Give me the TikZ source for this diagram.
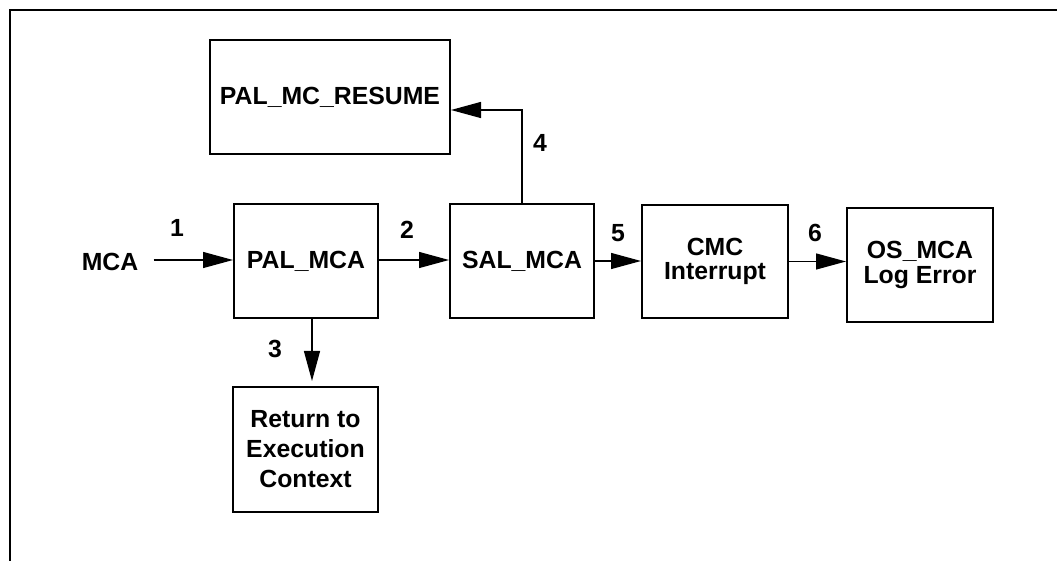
\documentclass[tikz,border=0pt]{standalone}
\usepackage{fontspec}
\setmainfont{Liberation Sans}
\usepackage{tikz}
\usetikzlibrary{arrows.meta,calc,positioning}

\tikzset{
    blk/.style={draw, line width=1pt, align=center, font=\bfseries\fontsize{12.4}{12.4}\selectfont},
    flow/.style={line width=0.65pt, -{Triangle[length=15pt,width=8pt]}},
    num/.style={font=\bfseries\fontsize{12.4}{12.4}\selectfont}
}

\begin{document}
\begin{tikzpicture}[x=0.5pt,y=-0.5pt]
    \useasboundingbox (0,0) rectangle (1057,561);
    \draw[line width=0.6pt] (10,561) -- (10,10) -- (1057,10);
    % blocks
    \node[blk, minimum width=120pt, minimum height=57pt] (resume) at (330,97) {PAL\_MC\_RESUME};
    \node[blk, minimum width=72pt, minimum height=57pt] (palmca) at (306,261) {PAL\_MCA};
    \node[blk, minimum width=72pt, minimum height=57pt] (salmca) at (522,261) {SAL\_MCA};
    \node[blk, minimum width=73pt, minimum height=56.5pt] (cmc) at (715,261.5) {CMC\\Interrupt};
    \node[blk, minimum width=73pt, minimum height=57pt] (osmca) at (920,265) {OS\_MCA\\Log Error};
    \node[blk, minimum width=72.5pt, minimum height=62.5pt, font=\bfseries\fontsize{12.4}{15}\selectfont] (ret) at (305.5,449.5) {Return to\\Execution\\Context};
    \node[num, inner xsep=7.5pt] (mca) at (110,262) {MCA};
    % connectors
    \draw[flow] (mca.east |- 0,260) -- (palmca.west |- 0,260);
    \draw[flow] (palmca.east |- 0,260) -- (salmca.west |- 0,260);
    \draw[flow] (salmca.east) -- (cmc.west |- salmca.east);
    \draw[flow] (cmc.east) -- (osmca.west |- cmc.east);
    \draw[flow, shorten >=2.5pt] ([xshift=3pt]palmca.south) -- ([xshift=3pt]palmca.south |- ret.north);
    \draw[flow] (salmca.north) |- ([yshift=-6.5pt]resume.east);
    % step numbers
    \node[num] (l1) at (177,228) {1};
    \node[num] (l2) at (407,230) {2};
    \node[num] (l3) at (275,349) {3};
    \node[num] (l4) at (540,143) {4};
    \node[num] (l5) at (618,233) {5};
    \node[num] (l6) at (815,233) {6};
\end{tikzpicture}
\end{document}
